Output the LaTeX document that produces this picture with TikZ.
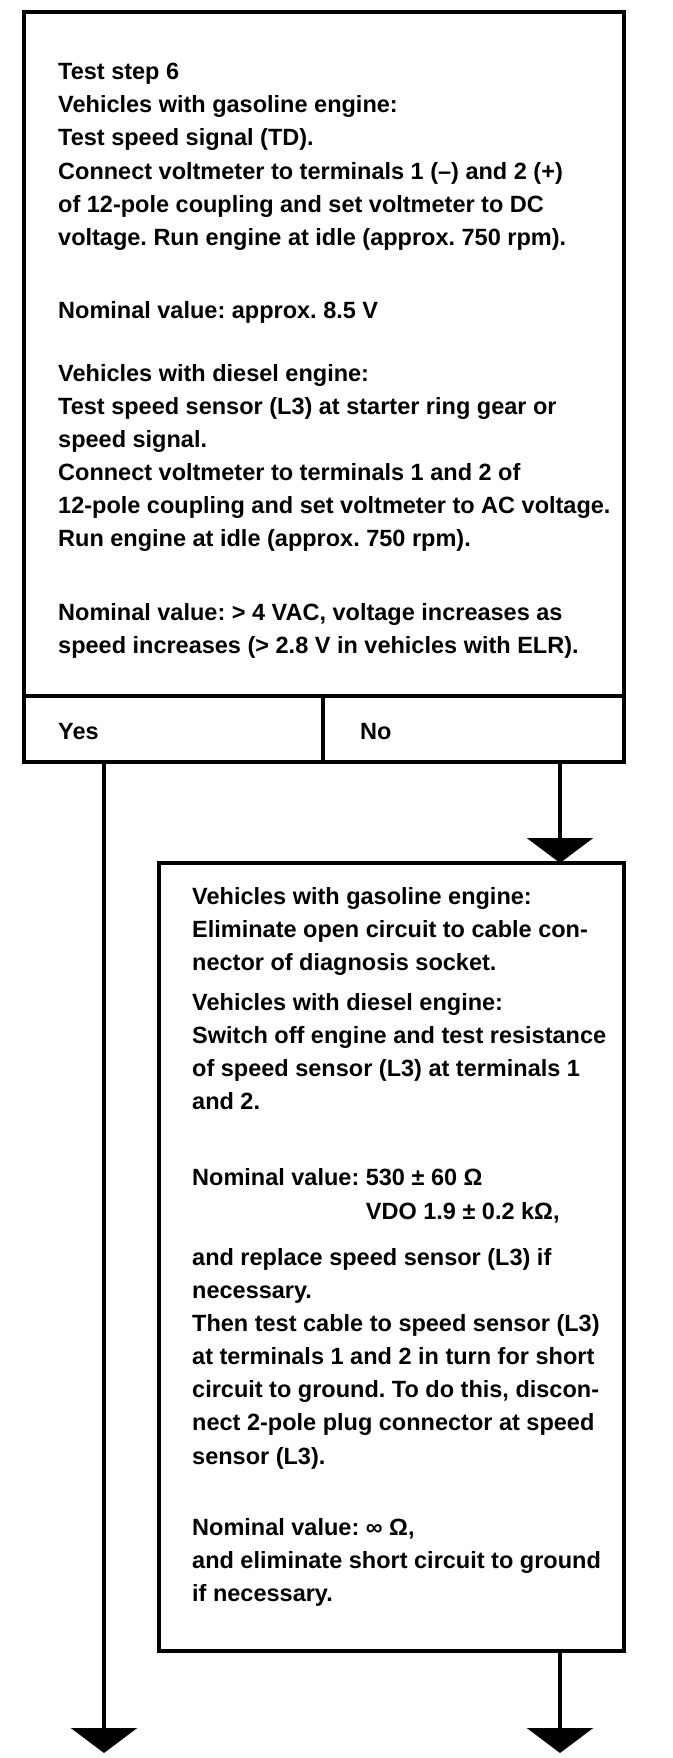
\documentclass[tikz,border=0pt]{standalone}
\usepackage{fontspec}
\setmainfont{Liberation Sans}
\usetikzlibrary{arrows.meta}
\frenchspacing
\begin{document}
\begin{tikzpicture}[x=1pt,y=1pt,
  txt/.style={anchor=base west, inner sep=0pt, font=\fontsize{23.5}{28}\selectfont\bfseries},
  boxst/.style={draw, line width=3.2pt, anchor=north west, inner sep=0pt, outer sep=0pt},
  conn/.style={line width=3.2pt, -{Triangle[width=66pt,length=25pt]}}]
\useasboundingbox (0,0) rectangle (672,-1758);
\fill[white] (0,0) rectangle (672,-1758);
% boxes
\node[boxst, minimum width=600pt, minimum height=684pt] (box1) at (24,-12) {};
\node[boxst, minimum width=299pt, minimum height=66pt] (yescell) at (24,-696) {};
\node[boxst, minimum width=301pt, minimum height=66pt] (nocell) at (323,-696) {};
\node[boxst, minimum width=465pt, minimum height=788pt] (box2) at (159,-863) {};
% box 1 text
\node[txt] (a1) at (58,-80) {Test step 6};
\node[txt] (a2) at (58,-113) {Vehicles with gasoline engine:};
\node[txt] (a3) at (58,-146) {Test speed signal (TD).};
\node[txt] (a4) at (58,-179) {Connect voltmeter to terminals 1 (–) and 2 (+)};
\node[txt] (a5) at (58,-212) {of 12-pole coupling and set voltmeter to DC};
\node[txt] (a6) at (58,-245) {voltage. Run engine at idle (approx. 750 rpm).};
\node[txt] (a7) at (58,-318) {Nominal value: approx. 8.5 V};
\node[txt] (a8) at (58,-381) {Vehicles with diesel engine:};
\node[txt] (a9) at (58,-414) {Test speed sensor (L3) at starter ring gear or};
\node[txt] (a10) at (58,-447) {speed signal.};
\node[txt] (a11) at (58,-480) {Connect voltmeter to terminals 1 and 2 of};
\node[txt] (a12) at (58,-513) {12-pole coupling and set voltmeter to AC voltage.};
\node[txt] (a13) at (58,-546) {Run engine at idle (approx. 750 rpm).};
\node[txt] (a14) at (58,-620) {Nominal value: > 4 VAC, voltage increases as};
\node[txt] (a15) at (58,-653) {speed increases (> 2.8 V in vehicles with ELR).};
\node[txt] (yes) at (58,-739) {Yes};
\node[txt] (no) at (360,-739) {No};
% box 2 text
\node[txt] (b1) at (192,-904) {Vehicles with gasoline engine:};
\node[txt] (b2) at (192,-937) {Eliminate open circuit to cable con-};
\node[txt] (b3) at (192,-970) {nector of diagnosis socket.};
\node[txt] (b4) at (192,-1010) {Vehicles with diesel engine:};
\node[txt] (b5) at (192,-1043) {Switch off engine and test resistance};
\node[txt] (b6) at (192,-1076) {of speed sensor (L3) at terminals 1};
\node[txt] (b7) at (192,-1109) {and 2.};
\node[txt] (b8) at (192,-1185) {Nominal value: 530 ± 60 Ω};
\node[txt] (b9) at (192,-1219) {\phantom{Nominal value: }VDO 1.9 ± 0.2 kΩ,};
\node[txt] (b10) at (192,-1265) {and replace speed sensor (L3) if};
\node[txt] (b11) at (192,-1298) {necessary.};
\node[txt] (b12) at (192,-1331) {Then test cable to speed sensor (L3)};
\node[txt] (b13) at (192,-1364) {at terminals 1 and 2 in turn for short};
\node[txt] (b14) at (192,-1397) {circuit to ground. To do this, discon-};
\node[txt] (b15) at (192,-1430) {nect 2-pole plug connector at speed};
\node[txt] (b16) at (192,-1464) {sensor (L3).};
\node[txt] (b17) at (192,-1535) {Nominal value: ∞ Ω,};
\node[txt] (b18) at (192,-1568) {and eliminate short circuit to ground};
\node[txt] (b19) at (192,-1601) {if necessary.};
% connectors
\coordinate (nox) at (560,0);
\coordinate (yesend) at (104,-1753);
\coordinate (noend) at (560,-1753);
\draw[conn] (yescell.south -| yesend) -- (yesend);
\draw[conn] (nocell.south -| nox) -- (box2.north -| nox);
\draw[conn] (box2.south -| nox) -- (noend);
\end{tikzpicture}
\end{document}
